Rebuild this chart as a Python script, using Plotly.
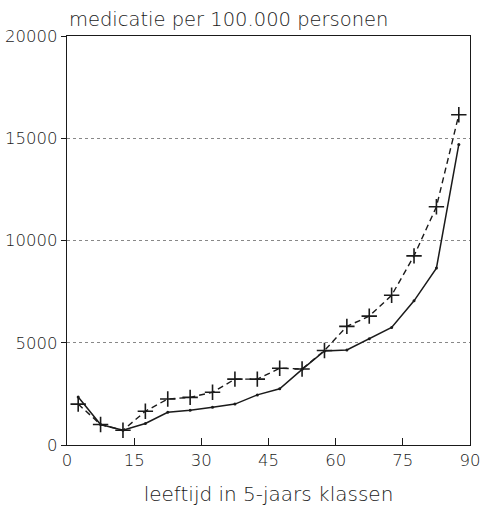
import plotly.graph_objects as go

# Age classes (midpoints of 5-year bands)
leeftijd = [2.5, 7.5, 12.5, 17.5, 22.5, 27.5, 32.5, 37.5, 42.5, 47.5,
            52.5, 57.5, 62.5, 67.5, 72.5, 77.5, 82.5, 87.5]

# Medication per 100,000 persons, solid series (dots)
reeks_doorgetrokken = [2350, 1000, 720, 1050, 1600, 1700, 1850, 2000, 2450, 2750,
                       3700, 4600, 4650, 5200, 5750, 7050, 8650, 14700]

# Medication per 100,000 persons, dashed series (plus markers)
reeks_gestreept = [2000, 1000, 720, 1650, 2250, 2330, 2580, 3220, 3220, 3750,
                   3720, 4620, 5800, 6300, 7320, 9250, 11650, 16150]

x_ticks = [0, 15, 30, 45, 60, 75, 90]
y_ticks = [0, 5000, 10000, 15000, 20000]

ink = "#1a1a1a"
font_family = "DejaVu Sans"

fig = go.Figure()

fig.add_trace(go.Scatter(
    x=leeftijd, y=reeks_gestreept, mode="lines+markers",
    line=dict(color=ink, width=1.4, dash="6px,4px"),
    marker=dict(symbol="cross-thin", size=11, line=dict(color=ink, width=1.6)),
    showlegend=False,
))

fig.add_trace(go.Scatter(
    x=leeftijd, y=reeks_doorgetrokken, mode="lines+markers",
    line=dict(color=ink, width=1.5),
    marker=dict(symbol="circle", size=3, color=ink),
    showlegend=False,
))

fig.update_layout(
    width=483, height=506,
    margin=dict(l=67, r=13, t=36, b=61),
    paper_bgcolor="white", plot_bgcolor="white",
    font=dict(family=font_family, color=ink, size=16, weight=300),
    xaxis=dict(
        range=[0, 90], tickvals=x_ticks, ticktext=[str(v) for v in x_ticks],
        ticks="inside", ticklen=7, tickwidth=1.2, tickcolor=ink,
        showline=True, linecolor=ink, linewidth=1.3, mirror=True,
        showgrid=False, zeroline=False, automargin=False,
        title=dict(text="leeftijd in 5-jaars klassen",
                   font=dict(size=20, weight=300, color=ink), standoff=18),
        tickfont=dict(size=16.5, weight=300, color=ink),
    ),
    yaxis=dict(
        range=[0, 20000], tickvals=y_ticks, ticktext=[str(v) for v in y_ticks],
        ticks="outside", ticklen=5, tickwidth=1, tickcolor=ink,
        showline=True, linecolor=ink, linewidth=1.3, mirror=True,
        showgrid=True, gridcolor="#888888", griddash="dot", gridwidth=1,
        zeroline=False, automargin=False,
        tickfont=dict(size=16.5, weight=300, color=ink),
    ),
    annotations=[dict(
        text="medicatie per 100.000 personen", xref="paper", yref="paper",
        x=0, y=1, xanchor="left", yanchor="bottom", yshift=3, showarrow=False,
        font=dict(size=19.5, family=font_family, color=ink, weight=300),
    )],
)

fig.write_html("out.html")
